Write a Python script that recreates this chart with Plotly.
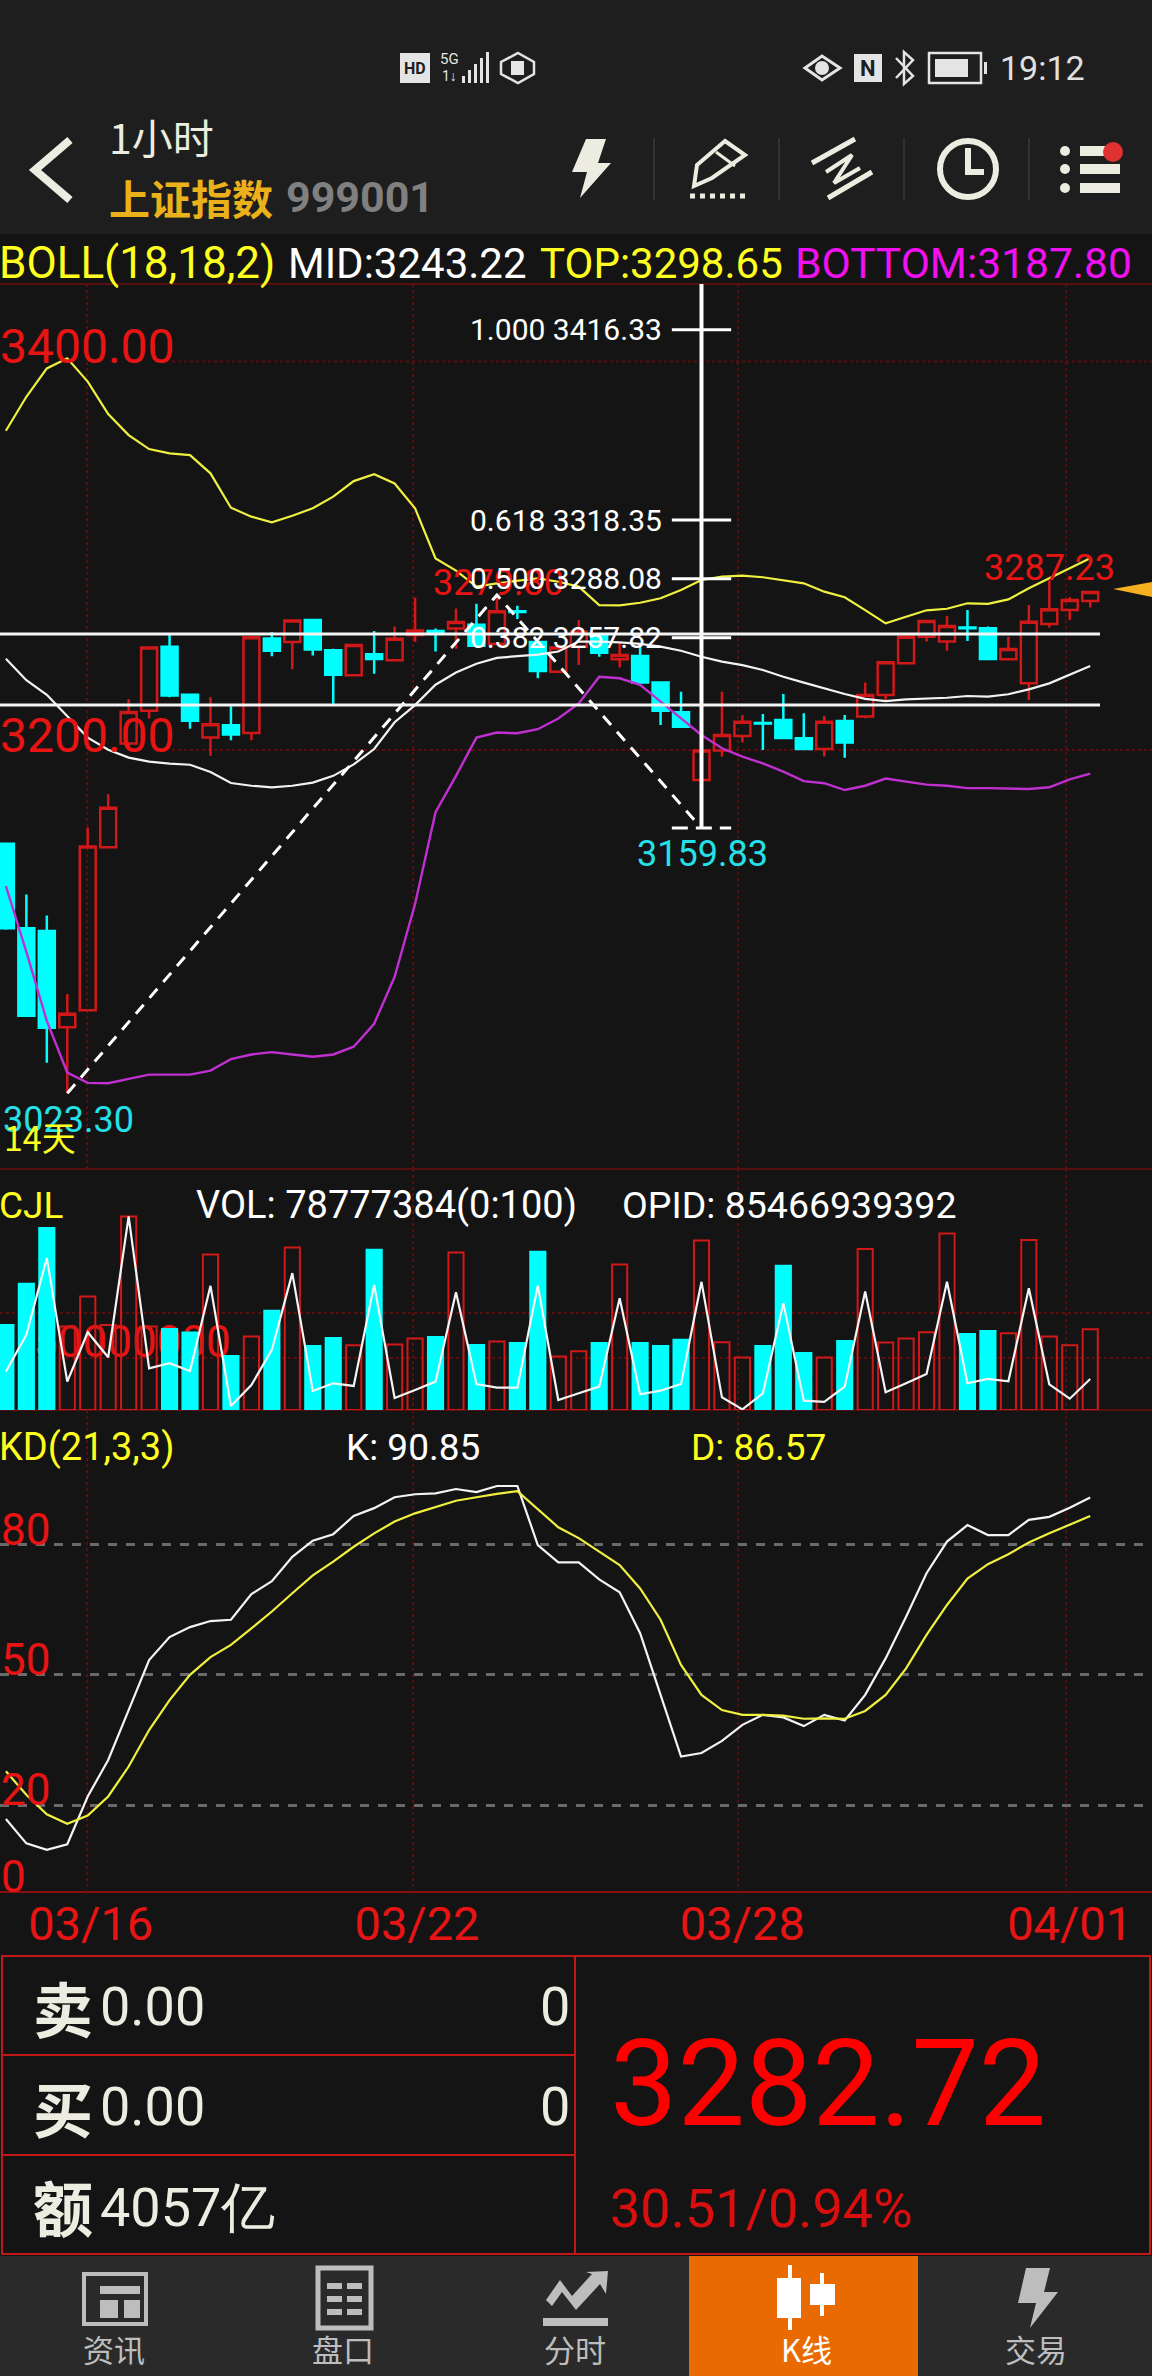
import plotly.graph_objects as go

W = 1152
H = 2376

#candles
opens = [3151.8, 3108.3, 3106.9, 3057.3, 3066.0, 3149.9, 3203.4, 3220.2, 3253.1, 3228.5, 3206.4, 3212.7, 3208.8, 3257.4,
         3255.6, 3266.9, 3251.3, 3238.5, 3249.3, 3246.2, 3259.2, 3261.2, 3262.5, 3264.5, 3254.6, 3271.4, 3255.6, 3240.3,
         3253.2, 3259.2, 3246.7, 3248.4, 3234.7, 3219.4, 3184.6, 3199.7, 3207.2, 3213.9, 3215.4, 3206.0, 3200.5, 3214.9,
         3217.2, 3228.3, 3244.6, 3258.3, 3255.8, 3263.0, 3262.6, 3246.7, 3234.3, 3264.8, 3272.0, 3276.7]
highs = [3151.8, 3125.6, 3114.8, 3074.4, 3160.1, 3177.2, 3226.1, 3252.7, 3259.2, 3228.5, 3227.1, 3222.5, 3258.0, 3260.6,
         3266.7, 3267.4, 3252.1, 3254.0, 3261.2, 3263.5, 3278.3, 3262.5, 3272.8, 3275.3, 3279.8, 3274.3, 3255.6, 3252.7,
         3266.9, 3259.2, 3254.9, 3253.2, 3234.7, 3230.0, 3199.7, 3230.0, 3218.0, 3218.5, 3228.8, 3218.9, 3217.5, 3218.0,
         3234.7, 3245.5, 3258.3, 3266.4, 3269.0, 3272.0, 3263.5, 3258.3, 3274.6, 3287.23, 3278.6, 3281.3]
lows = [3107.5, 3063.2, 3039.0, 3023.3, 3066.0, 3149.9, 3201.5, 3216.2, 3227.1, 3210.9, 3197.1, 3205.0, 3205.0, 3248.2,
        3241.5, 3248.7, 3223.7, 3238.5, 3239.3, 3246.2, 3255.6, 3250.7, 3252.1, 3253.7, 3254.6, 3267.4, 3236.9, 3240.3,
        3243.7, 3248.0, 3242.4, 3234.7, 3212.9, 3212.0, 3184.6, 3196.6, 3203.8, 3200.0, 3205.8, 3200.2, 3196.6, 3196.0,
        3216.3, 3225.7, 3244.6, 3255.8, 3251.1, 3256.1, 3246.5, 3246.0, 3225.7, 3263.1, 3266.9, 3273.4]
closes = [3108.3, 3063.2, 3057.1, 3064.2, 3150.3, 3170.3, 3219.6, 3252.7, 3228.1, 3215.1, 3213.3, 3208.0, 3258.0, 3251.1,
          3266.7, 3251.7, 3238.7, 3254.0, 3246.8, 3257.2, 3261.5, 3260.8, 3265.9, 3253.7, 3271.4, 3271.0, 3240.7, 3252.7,
          3260.9, 3250.1, 3248.9, 3234.7, 3220.2, 3212.0, 3199.7, 3207.7, 3214.6, 3213.7, 3206.2, 3200.5, 3214.6, 3203.8,
          3228.3, 3245.1, 3258.3, 3266.4, 3263.8, 3262.6, 3246.8, 3252.0, 3266.0, 3272.4, 3277.2, 3281.3]

#bollinger bands
boll_top = [3364.3, 3381.8, 3396.4, 3401.6, 3389.6, 3372.9, 3362.1, 3354.9, 3352.7, 3351.8, 3342.4, 3324.7, 3320.1, 3317.2,
            3320.6, 3324.4, 3330.4, 3338.4, 3341.9, 3337.2, 3324.4, 3298.6, 3292.3, 3284.1, 3285.8, 3287.2, 3288.3, 3286.6,
            3284.1, 3274.6, 3274.4, 3275.8, 3278.1, 3282.4, 3287.5, 3289.2, 3289.7, 3288.9, 3287.2, 3285.8, 3281.5, 3278.6,
            3272.0, 3265.2, 3268.6, 3271.9, 3272.7, 3275.5, 3275.2, 3277.5, 3283.2, 3288.4, 3293.2, 3298.65]
boll_mid = [3247.0, 3235.9, 3228.4, 3217.2, 3206.4, 3200.1, 3196.1, 3194.0, 3193.0, 3192.4, 3188.7, 3183.0, 3181.6, 3180.8,
            3181.6, 3183.2, 3186.7, 3192.6, 3200.5, 3214.3, 3223.1, 3233.6, 3239.9, 3244.4, 3247.4, 3248.3, 3249.1, 3250.7,
            3255.8, 3255.8, 3255.4, 3254.6, 3253.2, 3251.1, 3248.0, 3245.5, 3243.7, 3241.2, 3237.7, 3234.7, 3231.7, 3228.8,
            3226.3, 3225.2, 3226.1, 3226.6, 3226.9, 3227.8, 3227.5, 3228.7, 3231.2, 3234.3, 3238.6, 3243.22]
boll_bottom = [3130.0, 3096.1, 3060.6, 3034.0, 3028.7, 3028.5, 3030.7, 3032.9, 3032.9, 3032.9, 3035.0, 3040.9, 3043.3, 3044.5,
               3043.3, 3042.1, 3043.3, 3047.3, 3059.1, 3083.3, 3120.7, 3168.0, 3186.7, 3206.4, 3209.0, 3208.6, 3210.7, 3216.2,
               3224.0, 3237.7, 3236.9, 3233.5, 3224.9, 3216.3, 3207.7, 3200.9, 3196.6, 3193.1, 3188.9, 3184.0, 3182.9, 3179.4,
               3181.6, 3185.3, 3183.7, 3182.2, 3181.6, 3180.4, 3180.4, 3180.1, 3179.9, 3180.8, 3184.9, 3187.8]

#volume in millions, opid in billions
volume = [83.0, 123.0, 177.4, 81.4, 110.7, 83.0, 188.8, 81.4, 79.1, 75.5, 151.7, 52.7, 71.6, 96.7, 158.5, 62.5, 70.3, 63.2,
          156.2, 63.8, 69.7, 71.3, 153.6, 63.5, 66.7, 65.4, 154.3, 52.1, 57.3, 65.4, 141.9, 65.4, 62.5, 68.4, 165.4, 66.1,
          51.1, 62.5, 140.6, 55.7, 51.1, 67.4, 156.9, 65.8, 69.7, 75.8, 172.2, 74.2, 77.1, 74.9, 165.7, 71.6, 63.2, 78.777]
opid = [105.7, 206.8, 418.1, 78.1, 214.1, 145.2, 533.0, 114.9, 128.7, 107.5, 341.9, 11.0, 68.9, 165.4, 376.8, 52.4, 73.5, 66.2,
        344.6, 33.1, 55.1, 78.1, 324.4, 71.7, 61.6, 61.6, 341.9, 27.6, 46.0, 64.3, 307.9, 43.2, 53.3, 71.7, 352.9, 34.9,
        1.8, 46.0, 294.1, 25.7, 22.1, 64.3, 326.2, 48.7, 73.5, 99.3, 352.9, 73.5, 85.47, 79.0, 335.4, 70.8, 31.2, 85.47]

#kd
k_line = [16.8, 11.2, 9.7, 11.0, 22.0, 30.4, 41.9, 53.4, 58.7, 61.0, 62.4, 62.7, 68.6, 71.6, 77.2, 80.9, 82.4, 86.6,
          88.4, 90.9, 91.6, 91.8, 92.8, 92.1, 93.5, 93.5, 79.9, 75.9, 75.9, 72.0, 69.0, 59.6, 45.4, 31.2, 32.0, 34.8,
          38.5, 40.8, 40.2, 38.2, 40.8, 39.5, 45.4, 53.8, 63.4, 73.4, 80.7, 84.5, 82.2, 82.2, 85.7, 86.4, 88.5, 90.85]
d_line = [27.8, 22.4, 17.9, 15.7, 17.6, 22.0, 28.9, 37.3, 44.2, 50.0, 54.1, 56.9, 60.7, 64.6, 68.8, 72.9, 76.1, 79.5,
          82.6, 85.3, 87.2, 88.7, 90.1, 90.9, 91.7, 92.3, 88.1, 84.0, 81.5, 78.4, 75.3, 69.9, 62.7, 52.3, 45.4, 41.9,
          40.8, 40.8, 40.6, 39.9, 40.0, 39.9, 41.7, 45.4, 51.5, 59.2, 66.1, 72.2, 75.5, 77.8, 80.5, 82.6, 84.5, 86.57]

date_ticks = [3.95, 19.9, 35.8, 51.8]
date_labels = ['03/16', '03/22', '03/28', '04/01']
fib_levels = [3416.33, 3318.35, 3288.08, 3257.82]
fib_ratios = ['1.000', '0.618', '0.500', '0.382']
fib_low = 3159.83
zigzag_x = [3, 24, 34]
zigzag_y = [3023.30, 3279.80, 3159.83]
drawn_lines = [3259.7, 3223.2]

BG = '#141414'
HEAD = '#1e1e1e'
NAV = '#2a2a2a'
RED = '#d01818'
LABEL_RED = '#e81414'
CYAN = '#00ffff'
YELLOW = '#ffff20'
CREAM = '#ecece0'
GREY = '#bdbdbd'
DARK_RED = '#571010'
ROBOTO = 'Roboto'
CJK = 'Noto Sans CJK SC'

idx = list(range(len(closes)))
shapes = []
notes = []


def px(x):
    return x / W


def py(y):
    return 1 - y / H


def text(s, x, y, size, color, anchor='left', font=ROBOTO, bold=False):
    notes.append(dict(text='<b>%s</b>' % s if bold else s, x=px(x), y=py(y), xref='paper', yref='paper',
                      xanchor=anchor, yanchor='middle', showarrow=False, borderpad=0,
                      font=dict(family=font, size=size, color=color)))


def line(x0, y0, x1, y1, color, width=2, dash=None, layer='above'):
    shapes.append(dict(type='line', xref='paper', yref='paper', x0=px(x0), x1=px(x1), y0=py(y0), y1=py(y1),
                       layer=layer, line=dict(color=color, width=width, dash=dash)))


def rect(x0, y0, x1, y1, fill=None, color=None, width=0, layer='above'):
    shapes.append(dict(type='rect', xref='paper', yref='paper', x0=px(x0), x1=px(x1), y0=py(y0), y1=py(y1),
                       layer=layer, fillcolor=fill or 'rgba(0,0,0,0)',
                       line=dict(color=color or 'rgba(0,0,0,0)', width=width)))


def circle(cx, cy, r, fill=None, color=None, width=0):
    shapes.append(dict(type='circle', xref='paper', yref='paper', x0=px(cx - r), x1=px(cx + r), y0=py(cy - r), y1=py(cy + r),
                       fillcolor=fill or 'rgba(0,0,0,0)', line=dict(color=color or 'rgba(0,0,0,0)', width=width)))


def poly(points, fill=None, color=None, width=0, closed=True):
    d = 'M' + ' L'.join('%.5f,%.5f' % (px(a), py(b)) for a, b in points)
    if closed:
        d += ' Z'
    shapes.append(dict(type='path', xref='paper', yref='paper', path=d, fillcolor=fill or 'rgba(0,0,0,0)',
                       line=dict(color=color or 'rgba(0,0,0,0)', width=width)))


#backgrounds
rect(0, 0, W, 234, fill=HEAD, layer='below')
rect(0, 2256, W, H, fill=NAV, layer='below')
rect(689, 2256, 918, H, fill='#e86a00', layer='below')

#status bar
rect(400, 53, 430, 83, fill='#e4e4e4')
text('HD', 415, 68, 16, HEAD, anchor='center', bold=True)
text('5G', 449, 59, 15, '#e4e4e4', anchor='center')
text('1↓', 449, 76, 14, '#e4e4e4', anchor='center')
for n, bar_x in enumerate([462, 468, 474, 480, 486]):
    rect(bar_x, 76 - 6 * n, bar_x + 3, 83, fill='#e4e4e4')
poly([(518, 53), (534, 62), (534, 74), (518, 83), (501, 74), (501, 62)], color='#e4e4e4', width=2.5)
rect(511, 61, 524, 75, fill='#e4e4e4')
poly([(805, 68), (822, 56), (840, 68), (822, 80)], color='#e4e4e4', width=3)
circle(822, 68, 7, fill='#e4e4e4')
rect(854, 54, 882, 82, fill='#e4e4e4')
text('N', 868, 68, 22, HEAD, anchor='center', bold=True)
poly([(896, 58), (913, 76), (904, 84), (904, 52), (913, 60), (896, 78)], color='#e4e4e4', width=2.5, closed=False)
rect(929, 53, 981, 83, color='#e4e4e4', width=2.5)
rect(935, 59, 968, 77, fill='#e4e4e4')
rect(984, 62, 987, 74, fill='#e4e4e4')
text('19:12', 999, 68, 34, '#e0e0e0')

#title row
poly([(70, 140), (35, 170), (70, 200)], color=CREAM, width=8, closed=False)
text('1小时', 108, 136, 41, CREAM, font=CJK)
text('上证指数', 108, 197, 41, '#eab11a', font=CJK, bold=True)
text('999001', 285, 197, 43, '#808080', bold=True)
poly([(586, 139), (606, 139), (598, 163), (611, 163), (580, 198), (587, 172), (572, 172)], fill=CREAM)
for sep_x in [654, 779, 904, 1029]:
    line(sep_x, 138, sep_x, 200, '#3a3a3a', width=1.5)
poly([(725, 141), (745, 155), (712, 178), (694, 186), (697, 165)], color=CREAM, width=4)
line(716, 152, 735, 166, CREAM, width=3)
line(690, 196, 746, 196, CREAM, width=5, dash='dot')
line(812, 163, 855, 139, CREAM, width=5)
line(828, 198, 872, 172, CREAM, width=5)
poly([(826, 172), (852, 155), (834, 183), (860, 168)], color=CREAM, width=4, closed=False)
circle(968, 169, 28, color=CREAM, width=6)
poly([(968, 148), (968, 172), (984, 172)], color=CREAM, width=6, closed=False)
for row_y in [151, 169, 188]:
    circle(1065, row_y, 5, fill=CREAM)
    rect(1080, row_y - 5, 1120, row_y + 5, fill=CREAM)
circle(1113, 152, 10, fill='#e03030')

#indicator header
text('BOLL(18,18,2)', -2, 263, 44, YELLOW)
text('MID:3243.22', 287, 263, 42, '#ffffff')
text('TOP:3298.65', 539, 263, 42, YELLOW)
text('BOTTOM:3187.80', 794, 263, 42.5, '#f010f0')

#panel rules
for rule_y in [284, 1169, 1410]:
    line(0, rule_y, W, rule_y, DARK_RED, width=2, layer='below')
line(0, 1892, W, 1892, '#8a1010', width=2, layer='below')

#price gridlines stop at the label
for level in [3400, 3200]:
    shapes.append(dict(type='line', xref='paper', yref='y', x0=px(172), x1=1, y0=level, y1=level, layer='below',
                       line=dict(color=DARK_RED, width=2, dash='dot')))

#drawn horizontal lines
for level in drawn_lines:
    shapes.append(dict(type='line', xref='paper', yref='y', x0=0, x1=px(1100), y0=level, y1=level,
                       line=dict(color='#f4f4f4', width=3)))

#arrow on the right edge
poly([(1113, 589), (1152, 582), (1152, 597)], fill='#f5b020')

#price labels
text('3400.00', -1, 346, 48, LABEL_RED)
text('3200.00', -1, 736, 48, LABEL_RED)
text('3279.80', 432, 583, 36, LABEL_RED)
text('3287.23', 983, 568, 36, LABEL_RED)
text('3159.83', 702, 854, 36, '#26e0e8', anchor='center')
text('3023.30', 2, 1120, 36, '#26e0e8')
text('14天', 3, 1136, 34, YELLOW, font=CJK)
for ratio, level in zip(fib_ratios, fib_levels):
    text('%s %.2f' % (ratio, level), 663, 750 - (level - 3200) * 1.943, 30, '#ffffff', anchor='right')

#volume and kd headers
text('CJL', -2, 1205, 37, YELLOW)
text('VOL: 78777384(0:100)', 195, 1205, 38, '#ffffff')
text('OPID: 85466939392', 621, 1205, 37.5, '#ffffff')
text('KD(21,3,3)', -2, 1447, 38, YELLOW)
text('K: 90.85', 345, 1447, 37, '#ffffff')
text('D: 86.57', 690, 1447, 37, YELLOW)
text('80', 0, 1530, 44, LABEL_RED)
text('50', 0, 1660, 44, LABEL_RED)
text('20', 0, 1790, 44, LABEL_RED)
text('0', 0, 1877, 44, LABEL_RED)

#quote table
rect(2, 1956, 1150, 2254, color='#c01818', width=2)
line(575, 1956, 575, 2254, '#c01818', width=2)
line(2, 2055, 575, 2055, '#c01818', width=2)
line(2, 2155, 575, 2155, '#c01818', width=2)
text('卖', 32, 2006, 60, CREAM, font=CJK, bold=True)
text('买', 32, 2106, 60, CREAM, font=CJK, bold=True)
text('额', 32, 2205, 60, CREAM, font=CJK, bold=True)
text('0.00', 99, 2006, 54, CREAM)
text('0.00', 99, 2106, 54, CREAM)
text('0', 571, 2006, 54, CREAM, anchor='right')
text('0', 571, 2106, 54, CREAM, anchor='right')
text('4057亿', 99, 2207, 54, CREAM)
text('3282.72', 609, 2084, 120, '#ff0000')
text('30.51/0.94%', 609, 2208, 54, '#d90f0f')

#bottom nav
rect(84, 2274, 146, 2324, color=GREY, width=4)
rect(100, 2286, 140, 2294, fill=GREY)
rect(100, 2300, 118, 2318, fill=GREY)
rect(124, 2300, 140, 2318, fill=GREY)
rect(318, 2268, 371, 2328, color=GREY, width=5)
for row_y in [2283, 2296, 2309]:
    rect(327, row_y, 342, row_y + 6, fill=GREY)
    rect(347, row_y, 362, row_y + 6, fill=GREY)
poly([(546, 2300), (560, 2280), (572, 2296), (592, 2274), (586, 2272), (608, 2271), (606, 2294), (600, 2284), (576, 2310),
      (562, 2292), (552, 2306)], fill=GREY)
rect(543, 2318, 608, 2326, fill=GREY)
line(790, 2265, 790, 2330, '#ffffff', width=4)
rect(777, 2278, 801, 2318, fill='#ffffff')
line(822, 2273, 822, 2316, '#ffffff', width=4)
rect(810, 2284, 835, 2305, fill='#ffffff')
poly([(1026, 2268), (1050, 2268), (1044, 2292), (1058, 2292), (1030, 2328), (1036, 2303), (1018, 2303)], fill=GREY)
text('资讯', 114, 2348, 31, GREY, anchor='center', font=CJK)
text('盘口', 343, 2348, 31, GREY, anchor='center', font=CJK)
text('分时', 575, 2348, 31, GREY, anchor='center', font=CJK)
text('K线', 806, 2348, 31, '#ffffff', anchor='center', font=CJK)
text('交易', 1036, 2348, 31, GREY, anchor='center', font=CJK)

fig = go.Figure()

fig.add_trace(go.Candlestick(x=idx, open=opens, high=highs, low=lows, close=closes, xaxis='x', yaxis='y',
                             whiskerwidth=0, hoverinfo='skip',
                             increasing=dict(line=dict(color=RED, width=2.5), fillcolor='rgba(0,0,0,0)'),
                             decreasing=dict(line=dict(color=CYAN, width=2.5), fillcolor=CYAN)))
fig.add_trace(go.Scatter(x=idx, y=boll_top, mode='lines', line=dict(color='#f0f040', width=2.2), xaxis='x', yaxis='y'))
fig.add_trace(go.Scatter(x=idx, y=boll_mid, mode='lines', line=dict(color='#f2f2f2', width=2.2), xaxis='x', yaxis='y'))
fig.add_trace(go.Scatter(x=idx, y=boll_bottom, mode='lines', line=dict(color='#c030d0', width=2.4), xaxis='x', yaxis='y'))
fig.add_trace(go.Scatter(x=zigzag_x, y=zigzag_y, mode='lines', line=dict(color='#ffffff', width=3, dash='12px,9px'),
                         xaxis='x', yaxis='y'))

#fib crosshair
fig.add_trace(go.Scatter(x=[34, 34], y=[fib_low, 3439.8], mode='lines', line=dict(color='#ffffff', width=4), xaxis='x', yaxis='y'))
for level in fib_levels:
    fig.add_trace(go.Scatter(x=[32.55, 35.45], y=[level, level], mode='lines', line=dict(color='#ffffff', width=3),
                             xaxis='x', yaxis='y'))
fig.add_trace(go.Scatter(x=[32.55, 35.45], y=[fib_low, fib_low], mode='lines', line=dict(color='#ffffff', width=3, dash='16px,8px'),
                         xaxis='x', yaxis='y'))

#volume, red bars stay hollow
bar_up = [c >= o for o, c in zip(opens, closes)]
fig.add_trace(go.Bar(x=idx, y=volume, width=0.74, xaxis='x2', yaxis='y2',
                     marker=dict(color=['rgba(0,0,0,0)' if up else CYAN for up in bar_up],
                                 line=dict(color=[RED if up else CYAN for up in bar_up], width=2))))
fig.add_trace(go.Scatter(x=idx, y=opid, mode='lines', line=dict(color='#f4f4f4', width=2.2), xaxis='x2', yaxis='y4'))

fig.add_trace(go.Scatter(x=idx, y=k_line, mode='lines', line=dict(color='#f4f4f4', width=2.2), xaxis='x3', yaxis='y3'))
fig.add_trace(go.Scatter(x=idx, y=d_line, mode='lines', line=dict(color='#f0f040', width=2.2), xaxis='x3', yaxis='y3'))

x_range = [-0.288, 56.02]
x_common = dict(range=x_range, tickmode='array', tickvals=date_ticks, showgrid=True, gridcolor=DARK_RED, griddash='dot',
                gridwidth=2, zeroline=False, showline=False, fixedrange=True)
y_common = dict(zeroline=False, showline=False, fixedrange=True)

fig.update_layout(
    width=W, height=H, margin=dict(l=0, r=0, t=0, b=0), paper_bgcolor=BG, plot_bgcolor=BG, showlegend=False,
    hovermode=False, dragmode=False, boxgap=0.22, boxgroupgap=0, shapes=shapes, annotations=notes,
    xaxis=dict(x_common, anchor='y', showticklabels=False, rangeslider=dict(visible=False), domain=[0, 1]),
    xaxis2=dict(x_common, anchor='y2', showticklabels=False, domain=[0, 1]),
    xaxis3=dict(x_common, anchor='y3', domain=[0, 1], ticktext=date_labels, ticks='', ticklabelshift=4,
                tickfont=dict(family=ROBOTO, size=47, color=LABEL_RED)),
    yaxis=dict(y_common, domain=[py(1169), py(284)], range=[2984.35, 3439.84], showticklabels=False, showgrid=False, anchor='x'),
    yaxis2=dict(y_common, domain=[py(1410), py(1169)], range=[0, 235], anchor='x2', tickmode='array', layer='below traces',
                tickvals=[66.3], ticktext=['50000000'], ticklabelposition='inside', ticklabelstandoff=30, showgrid=False,
                tickfont=dict(family=ROBOTO, size=44, color=LABEL_RED)),
    yaxis3=dict(y_common, domain=[py(1892), py(1410)], range=[0, 111], anchor='x3', tickmode='array', tickvals=[20, 50, 80],
                showticklabels=False, showgrid=True, gridcolor='#6a6a6a', griddash='dash', gridwidth=3),
    yaxis4=dict(y_common, domain=[py(1410), py(1169)], range=[0, 663.5], anchor='x2', overlaying='y2', side='right',
                tickmode='array', tickvals=[142.6, 266.5], showticklabels=False,
                showgrid=True, gridcolor=DARK_RED, griddash='dot', gridwidth=2),
)

fig.write_html("out.html", config={'displayModeBar': False}, post_script="document.body.style.margin='0';")
